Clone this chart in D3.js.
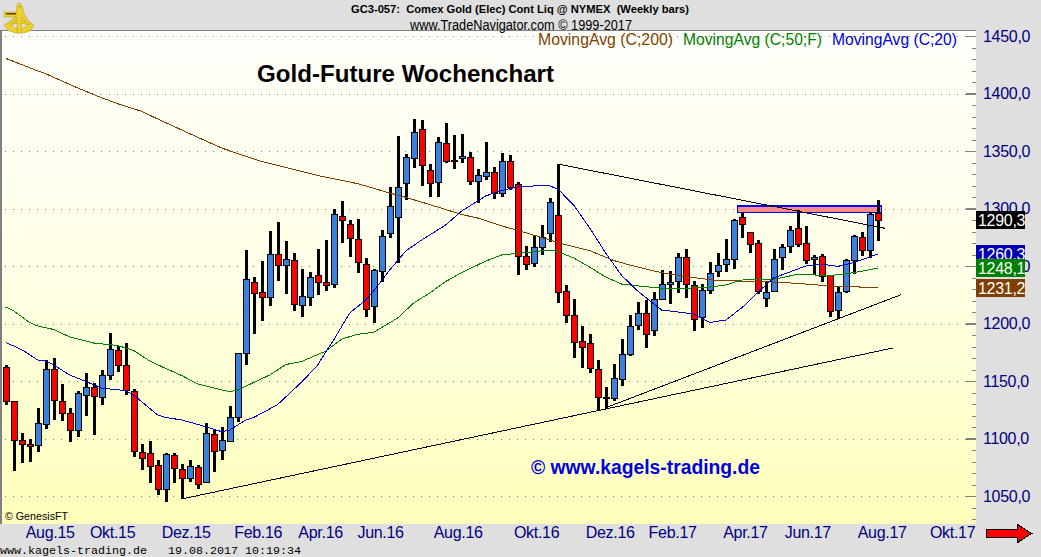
<!DOCTYPE html>
<html lang="de">
<head>
  <meta charset="UTF-8">
  <title>Gold-Future Wochenchart</title>
  <script src="https://d3js.org/d3.v7.min.js"></script>
  <style>
    html, body { margin: 0; padding: 0; background: #dfdfdf; overflow: hidden; }
    svg { display: block; font-family: "Liberation Sans", Arial, sans-serif; }
    .crisp { shape-rendering: crispEdges; }
    .axis text { font-size: 16px; fill: #000080; font-family: "Liberation Sans", Arial, sans-serif; }
    .axis path { display: none; }
  </style>
</head>
<body>
<div id="chart"></div>

<script>
  // weekly candles, bar 0 = first week on the chart
  const open = [1161.9,1132.3,1098.4,1095.2,1093.8,1112.6,1160.1,1132.3,1122.5,1107.1,1138.4,1145.1,1136.7,1154.9,1176.7,1163.6,1141,1088.6,1087.7,1076.7,
    1055.8,1085.7,1073.2,1065.4,1074.9,1061.6,1103.6,1089.4,1097.2,1118.1,1174,1235.8,1227.1,1222.8,1260.1,1250.3,1254.9,1215.5,1222.5,1241.9,
    1235.8,1234.1,1293.2,1286.2,1273.2,1251.4,1214.6,1245.4,1278.1,1293.2,1321.9,1344.5,1368.8,1333.2,1322.8,1356.7,1341.9,1343.6,1344.5,1323.3,
    1327.7,1331.4,1313.2,1341,1321,1258.4,1252,1266.8,1278.4,1294,1228,1207.1,1184.5,1182.8,1160.7,1135.8,1134.9,1151.4,1173.2,1199.3,
    1208.8,1194.6,1221.9,1234,1236.7,1258.1,1233.8,1205.4,1229.1,1245.7,1251.4,1255.8,1292.3,1279.9,1269.7,1222.8,1227.7,1257.2,1267.4,1282.8,
    1269.7,1255.8,1258.7,1242.2,1212.3,1228.6,1255.2,1275.5,1263.9,1296.4];
  const high = [1163.9,1132.3,1104.5,1099.6,1126.2,1168.3,1169.7,1147.1,1126.2,1141.6,1156.7,1148.6,1159.6,1191.4,1180.7,1182.8,1142.8,1095.2,1097.5,1081.3,
    1087.7,1087.1,1077.8,1081.3,1077,1113.2,1107.4,1109.7,1128.3,1174.6,1263.9,1240.1,1254.1,1280.4,1288.3,1271.7,1261,1247.4,1244.8,1264.8,
    1272.6,1299.6,1306.5,1289.7,1290.9,1256.7,1247.4,1281.3,1318.4,1363,1347.1,1377.8,1377,1338.4,1361.9,1374,1363.9,1364.8,1349.1,1334.3,
    1357.8,1336.1,1348.3,1346.5,1323,1267.4,1276.1,1285.7,1308.8,1338.7,1233.5,1221,1197.8,1190.9,1168.3,1144.5,1164.8,1186.2,1207.4,1218.4,
    1220.4,1227.1,1246.2,1245.4,1261.3,1264.8,1237.2,1234,1253.5,1261,1273.5,1290.6,1297.2,1279.9,1272.6,1236.4,1264.5,1269.1,1284.8,1298.7,
    1284.8,1259.6,1260.4,1242.2,1231.4,1255.8,1277,1279.9,1297.2,1307.4];
  const low = [1129.1,1071.7,1079,1079.9,1088.6,1108.6,1116.1,1115.5,1097.2,1101.6,1119.9,1103.3,1129.4,1150.9,1158.1,1137.8,1084.2,1072.6,1061.6,1050.9,
    1045.1,1061.6,1047.1,1062.5,1056.1,1061,1070.9,1081.3,1097.2,1114.6,1164.2,1190.9,1202.5,1215.5,1237,1225.7,1211.2,1205.9,1215.5,1224.8,
    1228.6,1231.2,1270.3,1258.1,1244.2,1205.9,1200.7,1236.4,1274.6,1252.3,1307.4,1335.5,1319.9,1310.3,1310.3,1339.9,1334.3,1339.3,1320.4,1304.5,
    1324.8,1308.3,1310,1315.8,1242.2,1246.5,1249.5,1259.6,1271.2,1218.1,1200.4,1170.3,1161.6,1157.2,1124.2,1125.4,1132.9,1145.9,1172,1194.3,
    1178.7,1189.4,1221,1217.2,1226.2,1222.2,1193.8,1196.4,1225.7,1240.7,1245.1,1247.7,1274.6,1261,1226,1214.1,1227.1,1246.5,1261,1266.2,
    1251.7,1241.9,1236.4,1206,1203.6,1226.8,1242.8,1259,1256.7,1272];
  const close = [1132,1098.1,1094.6,1093.2,1113.2,1160.1,1133.2,1121.9,1107.7,1139.3,1145.1,1137.2,1155.5,1177.5,1163.3,1141.9,1088.8,1083.6,1076.7,1055.8,
    1086.5,1074.1,1065.1,1075.8,1060.1,1104.5,1088.6,1098.4,1118.4,1174,1238.4,1225.9,1222.5,1260.1,1250.3,1255.8,1216.4,1223.6,1240.1,1235.5,
    1232.9,1294.9,1289.7,1274.1,1252.9,1212.3,1246.2,1275.8,1301.9,1319,1344.5,1366.8,1337.5,1321.9,1357.5,1340.7,1341,1345.7,1323.3,1328.8,
    1331.4,1312.9,1341,1318.1,1258.1,1251.4,1266.2,1275.5,1305.4,1227.1,1207.1,1183.6,1179.3,1161,1136.7,1134.6,1152.3,1173.2,1197.5,1209.4,
    1190.6,1221.6,1234.6,1235.8,1257.5,1234.6,1204.5,1228.8,1243.6,1251.2,1255.8,1289.7,1286.2,1269.7,1227.7,1227.7,1255.8,1266.2,1281.3,1268.8,
    1255.2,1257.5,1241.3,1211.2,1227.7,1255.2,1276.1,1264.5,1295.2,1290.3];

  // moving averages at these bars
  const ma200Bars = [0,4,5,9,12,14,17,19,22,24,27,29,32,39,44,48,50,54,57,59,62,64,67,70,73,76,78,81,84,87,89,94,99,103,109];
  const ma200 = [1430.6,1419.6,1417.2,1404.8,1396.3,1391.1,1384.5,1377.8,1368.3,1361.9,1352.6,1347.8,1340.9,1328.7,1321.6,1313.5,1309.7,1301.3,1294.8,1291.7,1284.8,1281,1274.8,1268.5,1263.4,1254.8,1250.9,1245.7,1241.7,1239.1,1237.2,1236.7,1234.9,1232.6,1231.2];

  const ma50Bars = [0,1,3,4,6,8,11,14,16,18,20,22,24,26,28,29,31,33,35,37,40,42,44,46,49,51,53,55,57,60,62,64,68,69,71,73,75,77,80,82,85,88,90,92,96,99,103,106,109];
  const ma50 = [1214.3,1210.9,1200.9,1197.8,1194.8,1188.3,1183,1180.9,1176.5,1167.4,1160.9,1154.8,1147.4,1143.9,1140.7,1142.2,1148.7,1155.2,1164.3,1167,1176,1186.5,1190.6,1192.3,1204.8,1217.8,1226.5,1236.5,1244.3,1254.3,1259.6,1261,1263.9,1262.6,1257,1249.1,1240.4,1234.3,1232,1230.6,1230.6,1231.7,1233.5,1237.8,1238.4,1242.8,1241.6,1244.2,1248.1];

  const ma20Bars = [0,2,4,5,6,8,10,12,15,16,19,20,22,25,27,28,30,31,33,34,35,37,39,40,41,43,45,46,48,50,52,55,57,60,62,64,66,68,69,71,73,75,77,79,81,82,84,86,88,90,92,94,96,98,100,102,104,106,109];
  const ma20 = [1183.5,1177.3,1168.3,1167.6,1163.9,1155.2,1149.7,1143.7,1141.7,1137.8,1120.4,1118.3,1116.1,1110.3,1105.9,1107.4,1116.1,1118.3,1125.7,1129.6,1136.1,1149.1,1163.9,1175.2,1185.7,1209.1,1220.4,1228.3,1246.5,1263,1272.6,1285.7,1297.8,1310.9,1315.7,1318.7,1319.6,1319.6,1317,1303,1283,1261.3,1241.7,1228.3,1217,1211.7,1210,1208.3,1200.9,1203,1213.5,1227,1239.6,1244.8,1250,1251.7,1249.6,1253,1260.3];

  // drawn trend lines and the resistance box: [bar, price]
  const trendLong = [[22,1047.4],[110.9,1178.7]];
  const trendSteep = [[74.9,1126.5],[111.9,1225]];
  const trendDown = [[69,1338.7],[109.9,1282.8]];
  const boxBars = [91.5,109.5];
  const boxPrices = [1302.2,1296.7];

  const priceTicks = [1050,1100,1150,1200,1250,1300,1350,1400,1450];
  const minorTicks = d3.range(1030,1460,10).filter(d => d % 50 !== 0);

  const monthLabels = ["Aug.15","Okt.15","Dez.15","Feb.16","Apr.16","Jun.16","Aug.16","Okt.16","Dez.16","Feb.17","Apr.17","Jun.17","Aug.17","Okt.17"];
  const monthBars = [5.5,13.3,22.5,31.5,39.3,46.8,56.5,66.3,75.5,83.3,92.4,100.2,109.5,118.3];

  const lastValues = [1290.3,1260.3,1248.1,1231.2];
  const lastColors = ["#000000","#0000b0","#008000","#7f3f00"];

  const width = 1041, height = 557;
  const plot = {left: 2, right: 976, top: 31, bottom: 524};

  const svg = d3.select("#chart").append("svg")
    .attr("width", width)
    .attr("height", height);

  const x = d3.scaleLinear().domain([0, 109]).range([5.7, 877.7]);
  const y = d3.scaleLinear().domain([1050, 1450]).range([496, 36]);
  const fmt = d => d.toFixed(1).replace(".", ",");

  const grad = svg.append("defs").append("linearGradient")
    .attr("id", "bg").attr("x1", 0).attr("y1", 0).attr("x2", 0).attr("y2", 1);
  grad.append("stop").attr("offset", "0%").attr("stop-color", "#fffffb");
  grad.append("stop").attr("offset", "50%").attr("stop-color", "#ffffe6");
  grad.append("stop").attr("offset", "100%").attr("stop-color", "#ffffbb");

  svg.append("rect")
    .attr("width", width).attr("height", height).attr("fill", "#dfdfdf");

  svg.append("rect").attr("class", "crisp")
    .attr("x", plot.left).attr("y", plot.top)
    .attr("width", plot.right - plot.left).attr("height", plot.bottom - plot.top)
    .attr("fill", "url(#bg)");

  // grey edge left and on top
  svg.append("path").attr("class", "crisp")
    .attr("d", `M1,${plot.bottom}V30.5H${plot.right}`)
    .attr("fill", "none").attr("stroke", "#808080").attr("stroke-width", 1.5);

  // dotted grid
  svg.append("g").attr("class", "crisp").selectAll("line")
    .data(priceTicks).enter().append("line")
    .attr("x1", 5).attr("x2", 966)
    .attr("y1", d => Math.round(y(d)) + 0.5).attr("y2", d => Math.round(y(d)) + 0.5)
    .attr("stroke", "#808080")
    .attr("stroke-dasharray", "1 7");

  // right axis: ticks inside the plot, labels outside
  const tickG = svg.append("g").attr("class", "axis crisp")
    .attr("transform", `translate(${plot.right},0)`)
    .call(d3.axisLeft(y).tickValues(priceTicks).tickSize(10).tickFormat(""));
  tickG.selectAll("line").attr("stroke", "#808080").attr("stroke-width", 1.5);

  svg.append("g").attr("class", "axis crisp")
    .attr("transform", `translate(${plot.right},0)`)
    .call(d3.axisLeft(y).tickValues(minorTicks).tickSize(4).tickFormat(""))
    .selectAll("line").attr("stroke", "#808080");

  const labelAxis = svg.append("g").attr("class", "axis")
    .attr("transform", `translate(${plot.right},0)`)
    .call(d3.axisRight(y).tickValues(priceTicks).tickSize(0).tickPadding(7).tickFormat(fmt));
  labelAxis.selectAll("text").style("letter-spacing", "-0.3px");

  // bottom month labels
  const xAxis = svg.append("g").attr("class", "axis")
    .attr("transform", `translate(0,${plot.bottom})`)
    .call(d3.axisBottom(x).tickValues(monthBars).tickSize(0).tickPadding(3)
      .tickFormat((d, i) => monthLabels[i]));
  xAxis.selectAll("text").style("letter-spacing", "-0.3px");

  // resistance box sits under the candles
  svg.append("rect").attr("class", "crisp")
    .attr("x", x(boxBars[0])).attr("y", y(boxPrices[0]))
    .attr("width", x(boxBars[1]) - x(boxBars[0]))
    .attr("height", y(boxPrices[1]) - y(boxPrices[0]))
    .attr("fill", "#ff8a8a").attr("stroke", "#0000ff").attr("stroke-width", 1.5);

  const bars = d3.range(open.length);
  const barX = i => Math.round(x(i));

  const candles = svg.append("g").attr("class", "crisp");

  candles.selectAll("rect.wick")
    .data(bars).enter().append("rect")
    .attr("class", "wick")
    .attr("x", i => barX(i) - 1)
    .attr("y", i => y(high[i]))
    .attr("width", 3)
    .attr("height", i => y(low[i]) - y(high[i]))
    .attr("fill", "#000");

  candles.selectAll("rect.body")
    .data(bars).enter().append("rect")
    .attr("class", "body")
    .attr("x", i => barX(i) - 2.5)
    .attr("y", i => Math.round(y(Math.max(open[i], close[i]))) + 0.5)
    .attr("width", 6)
    .attr("height", i => Math.max(1, Math.round(y(Math.min(open[i], close[i])) - y(Math.max(open[i], close[i])))))
    .attr("fill", i => close[i] >= open[i] ? "#3c7fdc" : "#ff0000")
    .attr("stroke", "#000")
    .attr("stroke-width", 1);

  const maLine = (barsIdx, values) => d3.line()
    .x((d, i) => x(barsIdx[i]))
    .y(d => y(d))(values);

  svg.append("path").attr("class", "crisp").attr("d", maLine(ma200Bars, ma200))
    .attr("fill", "none").attr("stroke", "#7f3f00").attr("stroke-width", 1);
  svg.append("path").attr("class", "crisp").attr("d", maLine(ma50Bars, ma50))
    .attr("fill", "none").attr("stroke", "#008000").attr("stroke-width", 1);
  svg.append("path").attr("class", "crisp").attr("d", maLine(ma20Bars, ma20))
    .attr("fill", "none").attr("stroke", "#0000d0").attr("stroke-width", 1);

  const trend = d3.line().x(d => x(d[0])).y(d => y(d[1]));
  [trendLong, trendSteep, trendDown].forEach(t => {
    svg.append("path").attr("class", "crisp").attr("d", trend(t))
      .attr("fill", "none").attr("stroke", "#000").attr("stroke-width", 1);
  });

  // last value boxes, blue first so green lies over it
  [1, 2, 3, 0].forEach(k => {
    const cy = Math.round(y(lastValues[k]));
    svg.append("rect").attr("class", "crisp")
      .attr("x", plot.right).attr("y", cy - 9)
      .attr("width", 49).attr("height", 18)
      .attr("fill", lastColors[k]);
    svg.append("text")
      .attr("x", plot.right + 2).attr("y", cy + 6)
      .attr("font-size", 16).attr("fill", "#fff")
      .style("letter-spacing", "-0.3px")
      .text(fmt(lastValues[k]));
  });

  // header
  svg.append("text").attr("x", 351).attr("y", 13)
    .attr("font-size", 11).attr("font-weight", "bold").attr("fill", "#000")
    .attr("textLength", 338).attr("lengthAdjust", "spacingAndGlyphs")
    .style("white-space", "pre")
    .text("GC3-057:  Comex Gold (Elec) Cont Liq @ NYMEX  (Weekly bars)");
  svg.append("text").attr("x", 410).attr("y", 30)
    .attr("font-size", 14).attr("fill", "#000")
    .attr("textLength", 222).attr("lengthAdjust", "spacingAndGlyphs")
    .text("www.TradeNavigator.com © 1999-2017");

  // moving average legend
  svg.append("text").attr("x", 538).attr("y", 45).attr("font-size", 16).attr("fill", "#7f3f00")
    .attr("textLength", 135).attr("lengthAdjust", "spacingAndGlyphs").text("MovingAvg (C;200)");
  svg.append("text").attr("x", 683).attr("y", 45).attr("font-size", 16).attr("fill", "#008000")
    .attr("textLength", 139).attr("lengthAdjust", "spacingAndGlyphs").text("MovingAvg (C;50;F)");
  svg.append("text").attr("x", 832).attr("y", 45).attr("font-size", 16).attr("fill", "#0000d0")
    .attr("textLength", 125).attr("lengthAdjust", "spacingAndGlyphs").text("MovingAvg (C;20)");

  // titles in the plot
  svg.append("text").attr("x", 257).attr("y", 82)
    .attr("font-size", 24).attr("font-weight", "bold").attr("fill", "#000")
    .attr("textLength", 297).attr("lengthAdjust", "spacingAndGlyphs")
    .text("Gold-Future Wochenchart");
  svg.append("text").attr("x", 531).attr("y", 474)
    .attr("font-size", 20).attr("font-weight", "bold").attr("fill", "#0000e0")
    .attr("textLength", 229).attr("lengthAdjust", "spacingAndGlyphs")
    .text("© www.kagels-trading.de");
  svg.append("text").attr("x", 5).attr("y", 520)
    .attr("font-size", 11.5).attr("fill", "#000")
    .attr("textLength", 63).attr("lengthAdjust", "spacingAndGlyphs")
    .text("© GenesisFT");

  // footer
  svg.append("text").attr("x", 0).attr("y", 554)
    .style("font-family", '"Liberation Mono", monospace')
    .attr("font-size", 11.67).attr("fill", "#000")
    .text("www.kagels-trading.de");
  svg.append("text").attr("x", 168).attr("y", 554)
    .style("font-family", '"Liberation Mono", monospace')
    .attr("font-size", 11.67).attr("fill", "#000")
    .text("19.08.2017 10:19:34");

  // red arrow bottom right
  svg.append("path")
    .attr("class", "crisp")
    .attr("d", "M986.5,529.5H1017.5V524.5L1031.5,533.5L1017.5,542.5V537.5H986.5Z")
    .attr("fill", "#ff0000").attr("stroke", "#000").attr("stroke-width", 1.2);

  // little sextant logo top left
  const logo = svg.append("g").attr("fill", "#ecd02c").attr("stroke", "#b89a18").attr("stroke-width", 0.5);
  logo.append("path").attr("d", "M4,25 L12,20 L26,20 L34,25 L30,31 L24,33 L16,33 L9,31Z M11,25 L14,28 L24,28 L27,25 L24,23.5 L14,23.5Z")
    .attr("fill-rule", "evenodd");
  logo.append("path").attr("d", "M17,6 L22,6 L24,14 L30,24 L27,25 L22,17 L21,33 L17,33 L17,17 L12,26 L10,24 L16,14Z");
  logo.append("rect").attr("x", 4).attr("y", 12).attr("width", 12).attr("height", 5);
  logo.append("rect").attr("x", 6).attr("y", 13).attr("width", 10).attr("height", 1.5).attr("fill", "#4a4010").attr("stroke", "none");
  logo.append("circle").attr("cx", 19).attr("cy", 5).attr("r", 2);
</script>
</body>
</html>
